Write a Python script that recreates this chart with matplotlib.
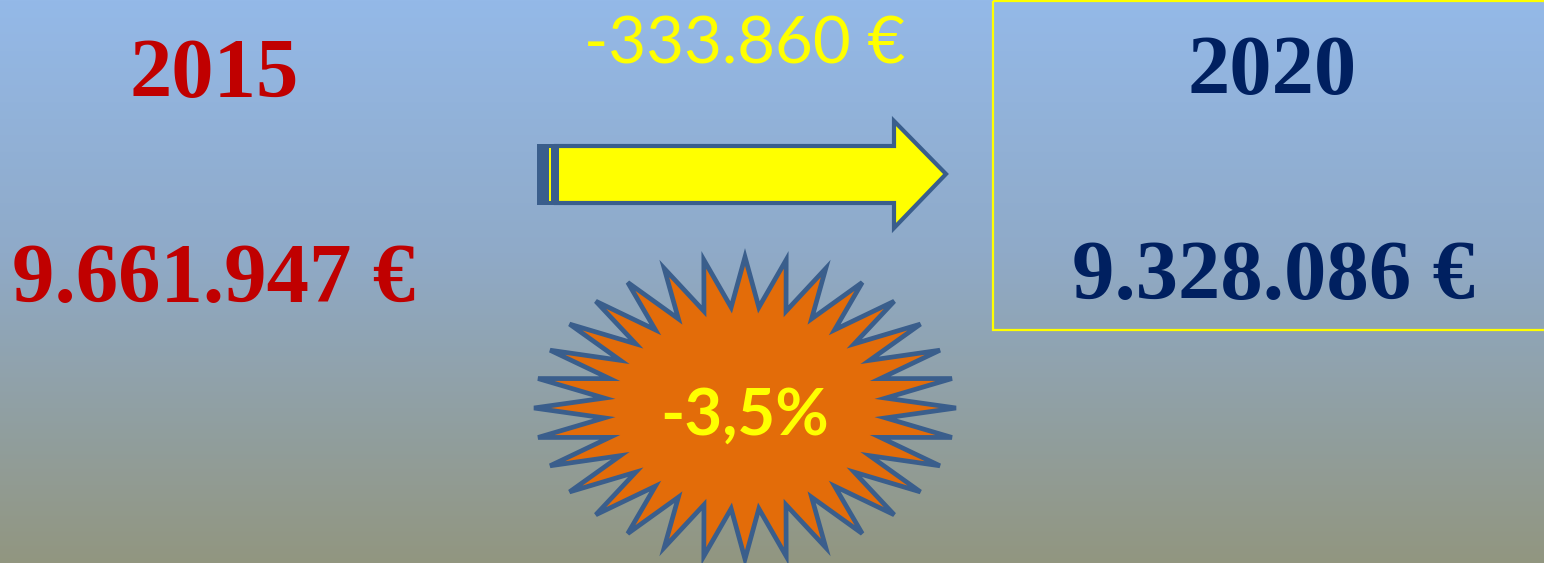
import numpy as np
import matplotlib.pyplot as plt
from matplotlib.patches import Polygon, Rectangle

# === DATA ===
years = ["2015", "2020"]
totals = [9661947, 9328086]
difference_label = "-333.860 €"
change_label = "-3,5%"

# === COLORS ===
col_2015 = "#C00000"
col_2020 = "#002060"
yellow = "#FFFF00"
outline = "#3A5E8C"
orange = "#E36C09"


def euro(v):
    return f"{v:,}".replace(",", ".") + " €"


fig = plt.figure(figsize=(15.44, 5.63), dpi=100)
ax = fig.add_axes([0, 0, 1, 1])
ax.set_xlim(0, 1544)
ax.set_ylim(563, 0)
ax.axis("off")

# === Background gradient (blue top -> olive grey bottom) ===
stops = np.array([[0.0, 148, 185, 232],
                  [0.45, 143, 170, 200],
                  [1.0, 146, 150, 128]])
t = np.linspace(0, 1, 300)
grad = np.stack([np.interp(t, stops[:, 0], stops[:, i]) for i in (1, 2, 3)], axis=-1) / 255
ax.imshow(grad[:, None, :], extent=[0, 1544, 563, 0], aspect="auto", zorder=0)

# === Year / total labels ===
serif = dict(family="Liberation Serif", weight="bold", ha="center", va="baseline")
ax.text(214, 97, years[0], color=col_2015, fontsize=61, **serif)
ax.text(214, 302, euro(totals[0]), color=col_2015, fontsize=61, **serif)
ax.text(1272, 94, years[1], color=col_2020, fontsize=61, **serif)
ax.text(1273, 299, euro(totals[1]), color=col_2020, fontsize=61, **serif)

# box around 2020
ax.add_patch(Rectangle((993, 0.5), 600, 329.5, fill=False, edgecolor=yellow, lw=1.6, zorder=3))

# === Difference and arrow ===
ax.text(745, 63, difference_label, color=yellow, fontsize=47, family="Lato",
        ha="center", va="baseline")

arrow = [(556, 146), (894, 146), (894, 121), (946, 174), (894, 228),
         (894, 203), (556, 203)]
ax.add_patch(Polygon(arrow, closed=True, facecolor=yellow, edgecolor=outline,
                     lw=3, joinstyle="miter", zorder=3))
ax.add_patch(Rectangle((537, 144), 22, 61, facecolor=outline, edgecolor="none", zorder=4))
ax.add_patch(Rectangle((549, 148), 2, 53, facecolor=yellow, edgecolor="none", zorder=5))

# === Starburst with percentage ===
n_points = 32
cx, cy = 745, 408
ang = np.arange(2 * n_points) * np.pi / n_points
r = np.where(np.arange(2 * n_points) % 2 == 0, 1.0, 0.67)
star = np.column_stack([cx + 211 * r * np.sin(ang), cy - 151 * r * np.cos(ang)])
ax.add_patch(Polygon(star, closed=True, facecolor=orange, edgecolor=outline,
                     lw=3.4, joinstyle="miter", zorder=3))
ax.text(745, 435, change_label, color=yellow, fontsize=47, family="Lato",
        weight="bold", ha="center", va="baseline", zorder=4)

plt.savefig("out.png", dpi=100)
